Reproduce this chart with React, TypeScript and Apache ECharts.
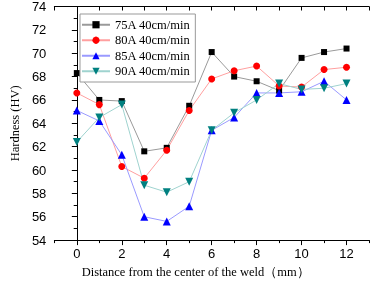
import React, { useEffect, useRef } from 'react';
import * as echarts from 'echarts';

const distances = [0, 1, 2, 3, 4, 5, 6, 7, 8, 9, 10, 11, 12];
const h75 = [68.3, 66.0, 65.9, 61.6, 61.9, 65.5, 70.1, 68.0, 67.6, 66.8, 69.6, 70.1, 70.4];
const h80 = [66.6, 65.6, 60.3, 59.3, 61.7, 65.1, 67.8, 68.5, 68.9, 67.2, 67.1, 68.6, 68.8];
const h85 = [65.1, 64.2, 61.3, 56.0, 55.6, 56.9, 63.4, 64.5, 66.6, 66.6, 66.7, 67.6, 66.0];
const h90 = [62.4, 64.5, 65.6, 58.7, 58.1, 59.0, 63.4, 64.9, 66.0, 67.4, 66.9, 67.0, 67.4];
const seriesNames = ['75A 40cm/min', '80A 40cm/min', '85A 40cm/min', '90A 40cm/min'];
const xMajor = [0, 2, 4, 6, 8, 10, 12];
const xMinor = [-1, 1, 3, 5, 7, 9, 11, 13];

const serif = 'Liberation Serif, Times New Roman, serif';
const sans = 'Liberation Sans, Arial, sans-serif';

export default function App() {
  const ref = useRef<HTMLDivElement>(null);
  useEffect(() => {
    const chart = echarts.init(ref.current!, null, { renderer: 'svg' });
    const pair = (arr: number[]) => distances.map((d, i) => [d, arr[i]]);
    const mk = (name: string, arr: number[], symbol: string, size: number, color: string, lineColor: string, rotate = 0) => ({
      name,
      type: 'line',
      data: pair(arr),
      symbol,
      symbolSize: size,
      symbolRotate: rotate,
      itemStyle: { color },
      lineStyle: { color: lineColor, width: 1 },
      emphasis: { disabled: true },
    });
    chart.setOption({
      animation: false,
      grid: { left: 45, top: 6, width: 324, height: 238 },
      legend: {
        orient: 'vertical',
        left: 80,
        top: 14,
        padding: [4, 5, 4, 1],
        itemWidth: 28,
        itemHeight: 9,
        itemGap: 2,
        borderColor: '#999',
        borderWidth: 1,
        backgroundColor: '#fff',
        textStyle: { fontFamily: serif, fontSize: 12.5, color: '#000', lineHeight: 13.5 },
        data: seriesNames,
      },
      xAxis: [
        {
          type: 'value', min: -1, max: 13, position: 'bottom',
          axisLine: { show: true, lineStyle: { color: '#000', width: 1 } },
          axisTick: { show: true, customValues: xMajor, length: 5, lineStyle: { color: '#000' } },
          axisLabel: { customValues: xMajor, margin: 7, fontFamily: sans, fontSize: 13, color: '#000' },
          splitLine: { show: false },
          name: 'Distance from the center of the weld（mm）',
          nameLocation: 'middle',
          nameGap: 20,
          nameTextStyle: { fontFamily: serif, fontSize: 12.5, color: '#000', padding: [0, 32, 0, 0] },
        },
        {
          type: 'value', min: -1, max: 13, position: 'bottom',
          axisLine: { show: false },
          axisTick: { show: true, customValues: xMinor, length: 3, lineStyle: { color: '#000' } },
          axisLabel: { show: false },
          splitLine: { show: false },
        },
        {
          type: 'value', min: -1, max: 13, interval: 1, position: 'top',
          axisLine: { show: true, lineStyle: { color: '#000', width: 1 } },
          axisTick: { show: true, inside: true, length: 4, lineStyle: { color: '#000' } },
          axisLabel: { show: false },
          splitLine: { show: false },
        },
      ],
      yAxis: [
        {
          type: 'value', min: 54, max: 74, interval: 2, position: 'left',
          axisLine: { show: true, lineStyle: { color: '#000', width: 1 } },
          axisTick: { show: true, length: 5, lineStyle: { color: '#000' } },
          minorTick: { show: true, splitNumber: 2, length: 3, lineStyle: { color: '#000' } },
          axisLabel: { margin: 8, fontFamily: sans, fontSize: 13, color: '#000' },
          splitLine: { show: false },
          name: 'Hardness (HV)',
          nameLocation: 'middle',
          nameGap: 27,
          nameTextStyle: { fontFamily: serif, fontSize: 12.5, color: '#000' },
        },
        {
          type: 'value', min: 54, max: 74, interval: 2, position: 'right',
          axisLine: { show: true, lineStyle: { color: '#000', width: 1 } },
          axisTick: { show: true, inside: true, length: 4, lineStyle: { color: '#000' } },
          minorTick: { show: true, splitNumber: 2, length: 3, lineStyle: { color: '#000' } },
          axisLabel: { show: false },
          splitLine: { show: false },
        },
      ],
      series: [
        mk(seriesNames[0], h75, 'rect', 6, '#000000', '#9a9a9a'),
        mk(seriesNames[1], h80, 'circle', 7, '#ff0000', '#ff9f9f'),
        mk(seriesNames[2], h85, 'triangle', 8, '#0000ff', '#9a9aff'),
        mk(seriesNames[3], h90, 'triangle', 8, '#008080', '#9fd3cf', 180),
      ],
    });
    return () => chart.dispose();
  }, []);
  return <div ref={ref} style={{ position: 'fixed', left: 0, top: 0, width: 370, height: 283 }} />;
}
